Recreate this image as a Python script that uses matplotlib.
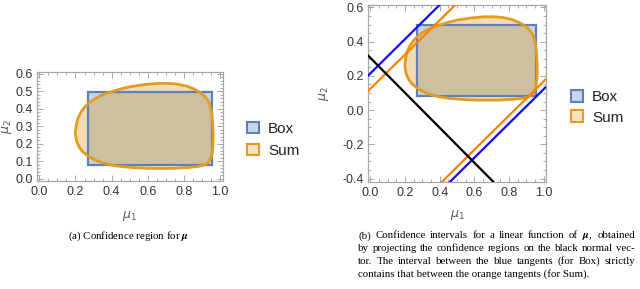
import matplotlib
matplotlib.use('Agg')
import matplotlib.pyplot as plt
from matplotlib.patches import Rectangle, Polygon, Patch
from matplotlib.ticker import MultipleLocator, FormatStrFormatter

plt.rcParams['font.family'] = ['Liberation Sans', 'DejaVu Sans']
plt.rcParams['axes.unicode_minus'] = False

# box confidence region: (x0, x1), (y0, y1)
box_x = [0.268, 0.955]
box_y = [0.080, 0.495]

# "Sum" confidence region boundary
sum_x = [0.199, 0.203, 0.212, 0.228, 0.249, 0.274, 0.304, 0.345, 0.397, 0.450,
         0.507, 0.580, 0.655, 0.715, 0.765, 0.815, 0.858, 0.890, 0.913, 0.933,
         0.946, 0.955, 0.959, 0.962, 0.963, 0.961, 0.956, 0.947, 0.932, 0.908,
         0.876, 0.815, 0.747, 0.675, 0.600, 0.525, 0.452, 0.392, 0.341, 0.300,
         0.267, 0.240, 0.221, 0.206]
sum_y = [0.255, 0.300, 0.341, 0.377, 0.407, 0.433, 0.455, 0.478, 0.497, 0.513,
         0.527, 0.538, 0.545, 0.545, 0.541, 0.530, 0.512, 0.494, 0.474, 0.448,
         0.417, 0.372, 0.322, 0.274, 0.226, 0.182, 0.141, 0.111, 0.089, 0.076,
         0.069, 0.063, 0.059, 0.058, 0.059, 0.063, 0.069, 0.079, 0.093, 0.110,
         0.131, 0.154, 0.179, 0.215]

# tangent lines (slope 1) and normal line
tangent_slope = 1.0
box_intercepts = [0.215, -0.878]
sum_intercepts = [0.125, -0.832]
normal_point = (0.0, 0.305)
normal_slope = -1.02

BOX_EDGE = '#5E81B5'
SUM_EDGE = '#E19C24'
BOX_FACE = (0.368, 0.507, 0.710, 0.35)
SUM_FACE = (0.880, 0.611, 0.142, 0.35)
FRAME = '#a8a8a8'
TXT = '#333333'


def draw_regions(ax):
    x0, x1 = box_x
    y0, y1 = box_y
    ax.add_patch(Rectangle((x0, y0), x1 - x0, y1 - y0, facecolor=BOX_FACE,
                           edgecolor='none', zorder=2))
    ax.add_patch(Polygon(list(zip(sum_x, sum_y)), closed=True, facecolor=SUM_FACE,
                         edgecolor='none', zorder=3))
    ax.add_patch(Rectangle((x0, y0), x1 - x0, y1 - y0, facecolor='none',
                           edgecolor=BOX_EDGE, linewidth=1.6, zorder=3.5))
    ax.add_patch(Polygon(list(zip(sum_x, sum_y)), closed=True, facecolor='none',
                         edgecolor=SUM_EDGE, linewidth=2.0, joinstyle='round', zorder=4))


def style_axes(ax, xmaj, xmin, ymaj, ymin, ypad):
    for s in ax.spines.values():
        s.set_color(FRAME)
        s.set_linewidth(0.9)
    ax.xaxis.set_major_locator(MultipleLocator(xmaj))
    ax.xaxis.set_minor_locator(MultipleLocator(xmin))
    ax.yaxis.set_major_locator(MultipleLocator(ymaj))
    ax.yaxis.set_minor_locator(MultipleLocator(ymin))
    ax.xaxis.set_major_formatter(FormatStrFormatter('%.1f'))
    ax.yaxis.set_major_formatter(FormatStrFormatter('%.1f'))
    ax.tick_params(which='both', direction='in', top=True, right=True, color=FRAME,
                   labelcolor=TXT, labelsize=9, width=0.7)
    ax.tick_params(which='major', length=4)
    ax.tick_params(which='minor', length=2)
    ax.tick_params(axis='x', pad=4)
    ax.tick_params(axis='y', pad=ypad)


fig = plt.figure(figsize=(6.4, 2.89), dpi=100)

# (a) confidence region
ax1 = fig.add_axes([0.0573, 0.3747, 0.2906, 0.3772])
draw_regions(ax1)
ax1.set_xlim(-0.015, 1.015)
ax1.set_ylim(-0.012, 0.612)
style_axes(ax1, 0.2, 0.05, 0.1, 0.02, 2.5)
ax1.set_xlabel(r'$\mu_1$', fontsize=9, color='#555555', labelpad=8)
ax1.set_ylabel(r'$\mu_2$', fontsize=9, color='#555555', labelpad=1.5)

# (b) projections on a normal vector
ax2 = fig.add_axes([0.5755, 0.3713, 0.2772, 0.6114])
draw_regions(ax2)
for b in box_intercepts:
    ax2.axline((0, b), slope=tangent_slope, color=(0.05, 0.05, 1.0), linewidth=1.6, zorder=5)
for b in sum_intercepts:
    ax2.axline((0, b), slope=tangent_slope, color=(1.0, 0.5, 0.0), linewidth=1.6, zorder=5)
ax2.axline(normal_point, slope=normal_slope, color='black', linewidth=1.6, zorder=6)
ax2.set_xlim(-0.012, 1.012)
ax2.set_ylim(-0.418, 0.614)
style_axes(ax2, 0.2, 0.05, 0.2, 0.05, 3)
ax2.set_xlabel(r'$\mu_1$', fontsize=9, color='#555555', labelpad=6)
ax2.set_ylabel(r'$\mu_2$', fontsize=9, color='#555555', labelpad=8.5)

# legends
handles = [Patch(facecolor=(0.78, 0.84, 0.93), edgecolor=BOX_EDGE, linewidth=1.5),
           Patch(facecolor=(0.99, 0.89, 0.75), edgecolor=SUM_EDGE, linewidth=1.5)]
labels = ['Box', 'Sum']
leg_kw = dict(frameon=False, borderpad=0, borderaxespad=0, handlelength=0.8,
              handleheight=0.8, handletextpad=0.6, fontsize=11, loc='upper left')
l1 = fig.legend(handles, labels, bbox_to_anchor=(0.3855, 0.579), labelspacing=0.52, **leg_kw)
l2 = fig.legend(handles, labels, bbox_to_anchor=(0.8917, 0.689), labelspacing=0.42, **leg_kw)
for t in l1.get_texts() + l2.get_texts():
    t.set_color('#222222')

# captions
cap_font = dict(fontsize=7.8, family='Liberation Serif', math_fontfamily='stix',
                va='baseline', ha='left', color='black')
fig.text(68 / 640, 1 - 238.5 / 289, r'(a) Confidence region for $\boldsymbol{\mu}$', **cap_font)
caption_b = [r'(b) Confidence intervals for a linear function of $\boldsymbol{\mu}$, obtained',
             'by projecting the confidence regions on the black normal vec-',
             'tor. The interval between the blue tangents (for Box) strictly',
             'contains that between the orange tangents (for Sum).']
cap_left, cap_right = 358.3, 635.0
renderer = fig.canvas.get_renderer()
for i, line in enumerate(caption_b):
    y = 1 - (238.5 + 12.7 * i) / 289
    if i == len(caption_b) - 1:
        fig.text(cap_left / 640, y, line, **cap_font)
        continue
    # justify the line: spread the words over the column width
    words = line.split(' ')
    texts = [fig.text(0, y, w, **cap_font) for w in words]
    widths = [t.get_window_extent(renderer).width for t in texts]
    gap = (cap_right - cap_left - sum(widths)) / (len(words) - 1)
    x = cap_left
    for t, w in zip(texts, widths):
        t.set_x(x / 640)
        x += w + gap

fig.savefig('out.png', dpi=100)
